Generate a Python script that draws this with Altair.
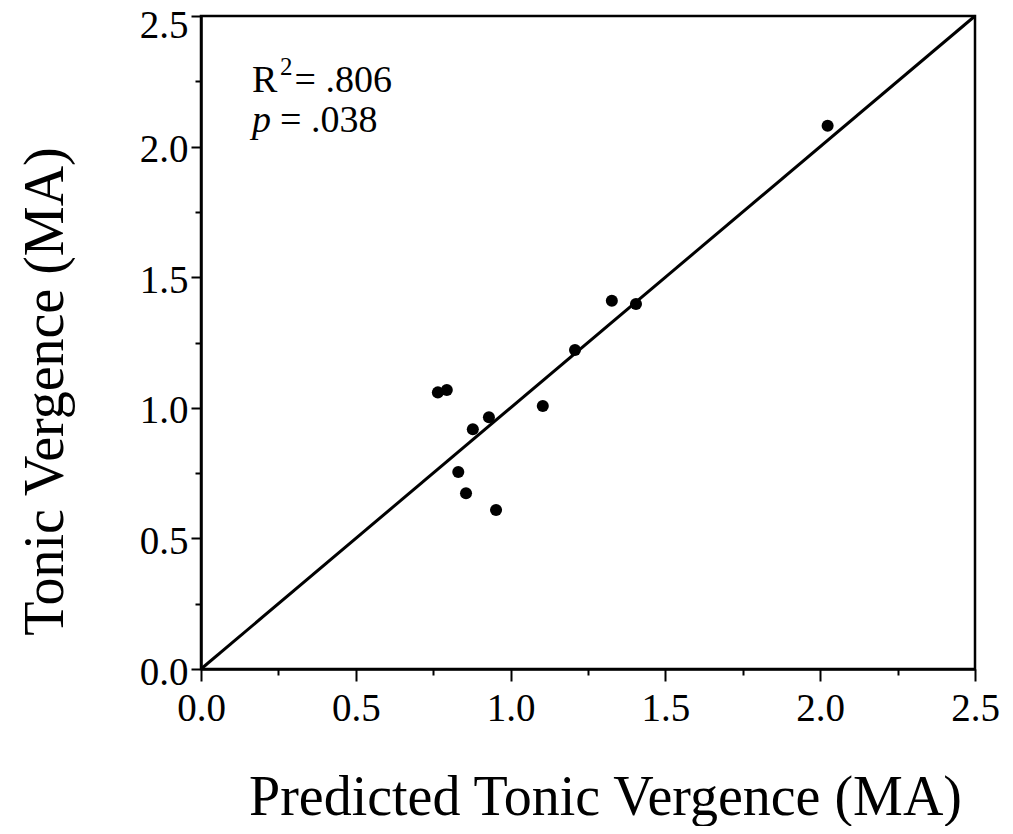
import altair as alt
import pandas as pd

predicted = [0.765, 0.794, 1.104, 0.930, 0.878, 0.831, 0.856, 0.953, 1.327, 1.405, 1.208, 2.024]
tonic = [1.059, 1.068, 1.007, 0.964, 0.918, 0.754, 0.673, 0.609, 1.410, 1.397, 1.221, 2.080]
line_x = [0.0, 2.5]
line_y = [0.0, 2.5]
tick_values = [0.0, 0.25, 0.5, 0.75, 1.0, 1.25, 1.5, 1.75, 2.0, 2.25, 2.5]

FONT = "Liberation Serif"

pts = pd.DataFrame({"x": predicted, "y": tonic})
ln = pd.DataFrame({"x": line_x, "y": line_y})

major = "abs(datum.value / 0.5 - round(datum.value / 0.5)) < 0.001"

xscale = alt.Scale(domain=[0, 2.5], nice=False, zero=False)
yscale = alt.Scale(domain=[0, 2.5], nice=False, zero=False)

xaxis = alt.Axis(
    values=tick_values, format=".1f",
    labelExpr=f"{major} ? datum.label : ''",
    tickSize={"condition": {"test": major, "value": 12}, "value": 6},
    tickWidth=2, tickColor="black", domainColor="black", domainWidth=2.5,
    labelFont=FONT, labelFontSize=39, labelColor="black", labelPadding=8,
    labelFlush=False, labelOverlap=False,
    grid=False, title="Predicted Tonic Vergence (MA)",
    titleFont=FONT, titleFontSize=56, titleFontWeight="normal", titleColor="black",
    titleX=404, titleY=145, titleAlign="center", titleBaseline="alphabetic",
)
yaxis = alt.Axis(
    values=tick_values, format=".1f",
    labelExpr=f"{major} ? datum.label : ''",
    tickSize={"condition": {"test": major, "value": 10}, "value": 6},
    tickWidth=2, tickColor="black", domainColor="black", domainWidth=2.5,
    labelFont=FONT, labelFontSize=39, labelColor="black", labelPadding=3,
    labelOffset={"condition": {"test": "datum.value > 2.4", "value": 9}, "value": 3},
    labelFlush=False, labelOverlap=False,
    grid=False, title="Tonic Vergence (MA)",
    titleFont=FONT, titleFontSize=56, titleFontWeight="normal", titleColor="black",
    titleAngle=-90, titleX=-156, titleY=375, titleAlign="center", titleBaseline="middle",
)

line = alt.Chart(ln).mark_line(color="black", strokeWidth=3).encode(
    x=alt.X("x:Q", scale=xscale, axis=xaxis),
    y=alt.Y("y:Q", scale=yscale, axis=yaxis),
)
points = alt.Chart(pts).mark_circle(color="black", opacity=1, size=145).encode(
    x=alt.X("x:Q", scale=xscale),
    y=alt.Y("y:Q", scale=yscale),
)


def txt(s, x, y, size=38, style="normal"):
    return alt.Chart(pd.DataFrame({"t": [s]})).mark_text(
        font=FONT, fontSize=size, fontStyle=style, align="left",
        baseline="alphabetic", color="black"
    ).encode(x=alt.datum(x), y=alt.datum(y), text="t:N")


r_main = txt("R", 0.165, 2.209)
r_sup = txt("2", 0.255, 2.274, size=25)
r_val = txt("= .806", 0.302, 2.209)
p_it = txt("p", 0.165, 2.056, style="italic")
p_val = txt("= .038", 0.255, 2.056)

chart = alt.layer(line, points, r_main, r_sup, r_val, p_it, p_val).properties(
    width=774, height=653,
    autosize=alt.AutoSizeParams(type="none"),
    padding={"left": 193, "top": 8, "right": 30, "bottom": 157},
).configure_view(stroke="black", strokeWidth=2.5)

chart.save("out.html", embed_options={"renderer": "svg", "actions": False})
